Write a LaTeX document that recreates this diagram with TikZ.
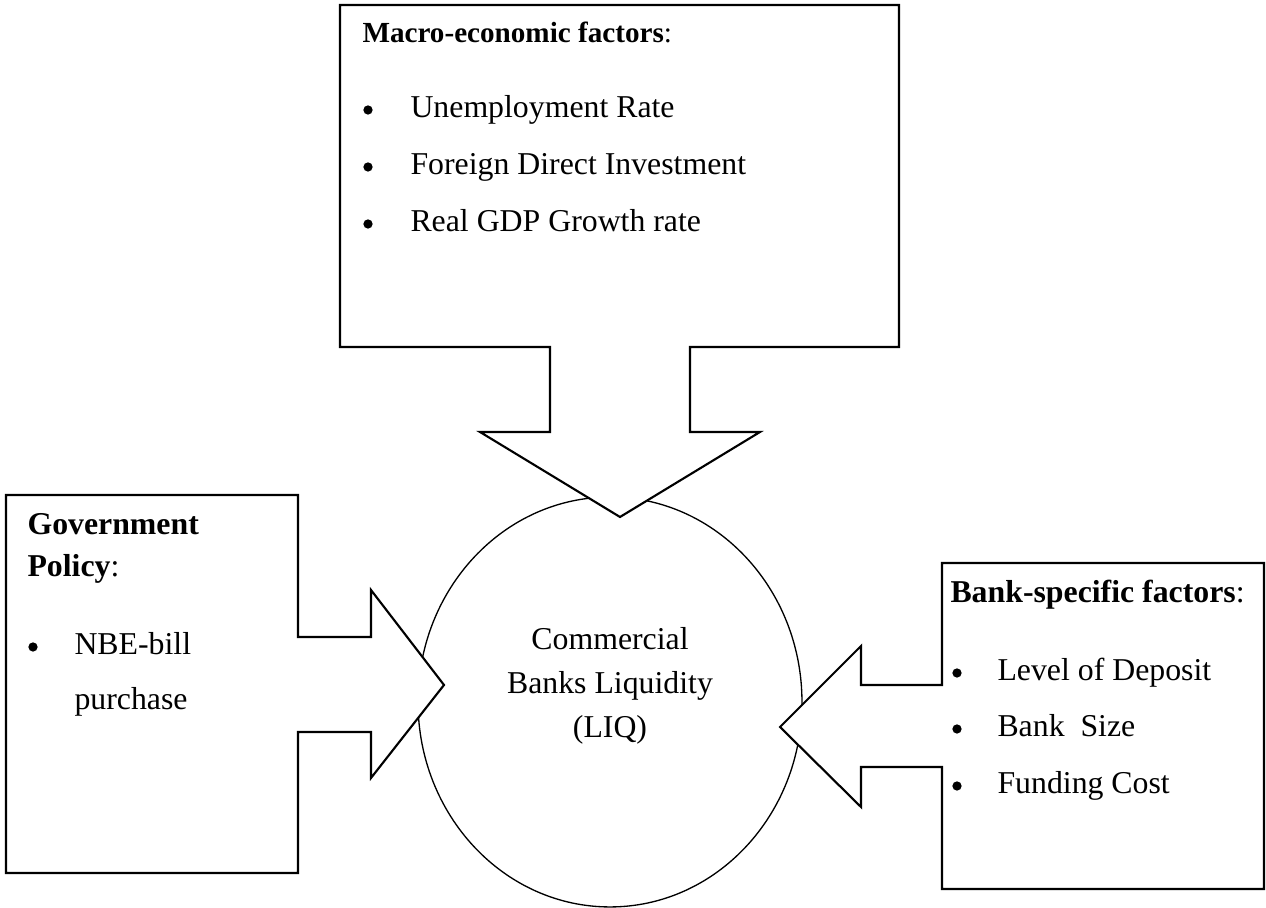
\documentclass[tikz,border=0pt]{standalone}
\usepackage{fontspec}
\setmainfont{Liberation Serif}
\usetikzlibrary{shapes.geometric}

\begin{document}
\begin{tikzpicture}[
    x=0.3774pt,
    y=-0.3774pt,
    font=\fontsize{12}{16.6}\selectfont,
    callout/.style={
        draw,
        fill=white,
        line width=0.8pt,
        line join=miter
    },
    title/.style={
        anchor=base west,
        inner sep=0pt
    },
    item/.style={
        anchor=base west,
        inner sep=0pt,
        align=left
    },
    dot/.style={
        circle,
        fill=black,
        inner sep=0pt,
        minimum size=3.5pt
    }
]
    \useasboundingbox (0,0) rectangle (1266,908);

    % === Liquidity circle ===
    \node[ellipse, draw, line width=0.5pt, inner sep=0pt,
          minimum width=144.9pt, minimum height=154.7pt] (liq) at (610,702) {};
    \node[align=center] (liqtext) at (610,686) {Commercial\\Banks Liquidity\\(LIQ)};

    % === Callout boxes ===
    % macro-economic, pointing down
    \draw[callout] (340,5) -- (899,5) -- (899,347) -- (690,347) -- (690,432)
        -- (760,432) -- (620,517) -- (480,432) -- (550,432) -- (550,347)
        -- (340,347) -- cycle;
    % government policy, pointing right
    \draw[callout] (6,495) -- (298,495) -- (298,637) -- (371,637) -- (371,590)
        -- (444,685) -- (371,778) -- (371,732) -- (298,732) -- (298,873)
        -- (6,873) -- cycle;
    % bank-specific, pointing left
    \draw[callout] (942,563) -- (1264,563) -- (1264,889) -- (942,889)
        -- (942,767) -- (861,767) -- (861,807) -- (780,727) -- (861,646)
        -- (861,685) -- (942,685) -- cycle;

    % === Texts ===
    \node[title, font=\fontsize{11}{14}\selectfont] (macro) at (362,43)
        {\textbf{Macro-economic factors}:};
    \foreach \name/\y/\txt in {une/118/Unemployment Rate,
                               fdi/175/Foreign Direct Investment,
                               gdp/232/Real GDP Growth rate} {
        \node[dot] (\name dot) at (368,\y-8) {};
        \node[item] (\name) at (410,\y) {\txt};
    }

    \node[title] (gov) at (27,535) {\textbf{Government}};
    \node[title] (pol) at (27,577) {\textbf{Policy}:};
    \node[dot] (nbedot) at (33,647) {};
    \node[item] (nbe) at (74,655) {NBE-bill};
    \node[item] (pur) at (74,710) {purchase};

    \node[title] (bank) at (950,603) {\textbf{Bank-specific factors}:};
    \foreach \name/\y/\txt in {dep/681/Level of Deposit,
                               size/737/Bank\ \ Size,
                               cost/794/Funding Cost} {
        \node[dot] (\name dot) at (957,\y-8) {};
        \node[item] (\name) at (997,\y) {\txt};
    }

\end{tikzpicture}
\end{document}
